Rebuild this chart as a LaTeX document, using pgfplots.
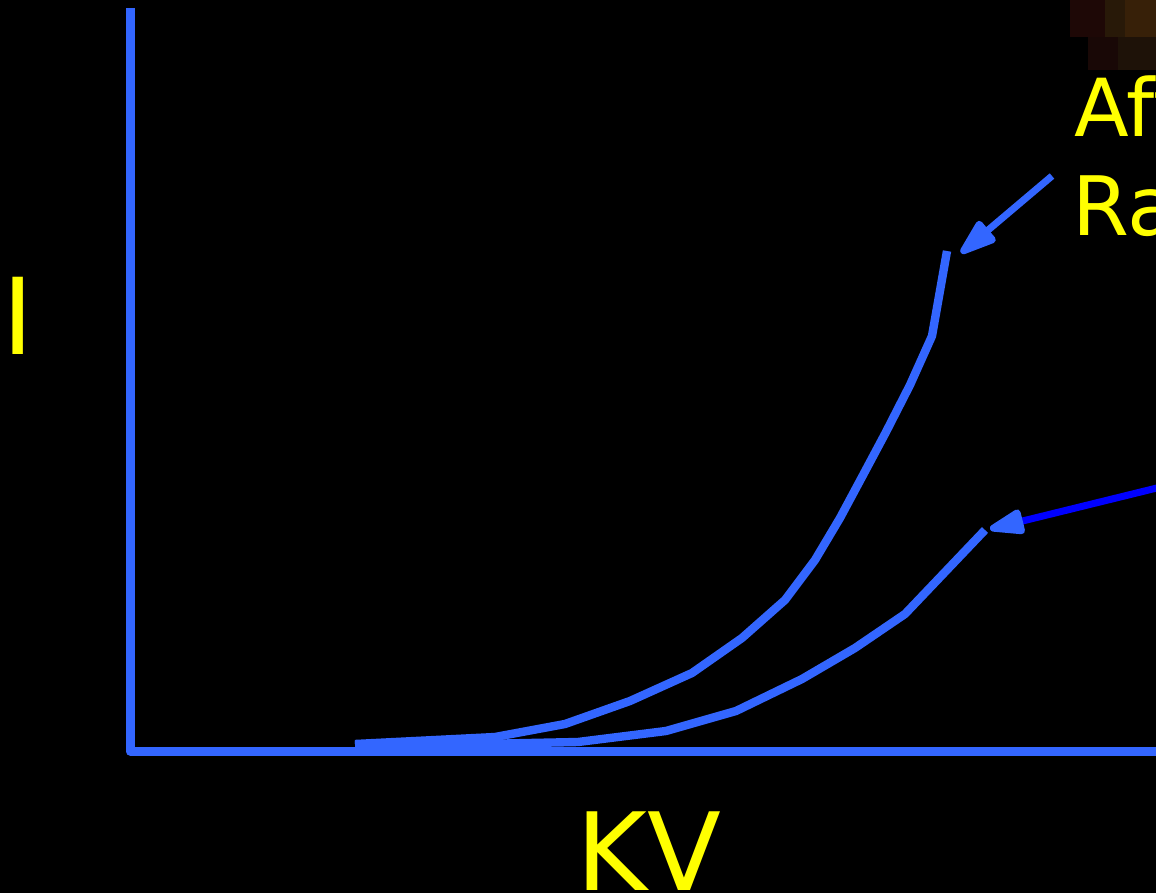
\documentclass[border=0pt]{standalone}
\usepackage{pgfplots}
\pgfplotsset{compat=1.18}
\usepackage{fontspec}
\setmainfont{DejaVu Sans}
\usetikzlibrary{arrows.meta}
\definecolor{ablue}{RGB}{51,102,255}
\definecolor{pblue}{RGB}{0,0,255}
\definecolor{tyellow}{RGB}{255,255,0}
\begin{document}
\begin{tikzpicture}
\path[use as bounding box] (0,0) rectangle (578pt,446.5pt);
\clip (0,0) rectangle (578pt,446.5pt);
\fill[black] (0,0) rectangle (578pt,446.5pt);
\begin{axis}[
  at={(0,0)}, anchor=south west,
  width=578pt, height=446.5pt, scale only axis,
  xmin=0, xmax=1156, ymin=0, ymax=893, y dir=reverse,
  hide axis, clip=true,
]
% brownish smudge top right
\fill[fill={rgb,255:red,30;green,8;blue,6}] (axis cs:1070,0) rectangle (axis cs:1105,37);
\fill[fill={rgb,255:red,40;green,25;blue,8}] (axis cs:1105,0) rectangle (axis cs:1156,37);
\fill[fill={rgb,255:red,55;green,32;blue,8}] (axis cs:1125,0) rectangle (axis cs:1156,37);
\fill[fill={rgb,255:red,25;green,8;blue,6}] (axis cs:1088,37) rectangle (axis cs:1118,70);
\fill[fill={rgb,255:red,30;green,18;blue,8}] (axis cs:1118,37) rectangle (axis cs:1156,70);
% axes
\draw[ablue, line width=4.5pt, line join=round] (axis cs:130,8) -- (axis cs:130,751) -- (axis cs:1170,751);
% upper curve
\addplot[ablue, line width=4.2pt, line join=round, mark=none] coordinates {
(355,744) (495,737) (565,724) (630,701) (692,673) (742,638) (785,600)
(815,560) (840,518) (862,477) (886,432) (910,385) (932,336) (947,251)};
% lower curve
\addplot[ablue, line width=4.2pt, line join=round, mark=none] coordinates {
(355,745) (480,744) (578,742) (666,731) (736,711) (802,679) (855,648)
(905,614) (945,572) (985,530)};
% arrows
\draw[ablue, line width=3.5pt, -{Triangle[length=22pt, width=14pt, round]}] (axis cs:1052,176) -- (axis cs:961,253);
\draw[pblue, line width=3.5pt, -{Triangle[color=ablue, fill=ablue, length=21pt, width=13pt, round]}] (axis cs:1165,486) -- (axis cs:990,529);
% texts
\node[anchor=base west, inner sep=0pt, text=tyellow, font=\fontsize{53}{60}\selectfont] at (axis cs:2,354) {I};
\node[anchor=base west, inner sep=0pt, text=tyellow, font=\fontsize{54}{60}\selectfont] at (axis cs:576,890) {KV};
\node[anchor=base west, inner sep=0pt, text=tyellow, font=\fontsize{40}{50}\selectfont] at (axis cs:1074,137) {After};
\node[anchor=base west, inner sep=0pt, text=tyellow, font=\fontsize{41}{50}\selectfont] at (axis cs:1072,235) {Rapid};
\end{axis}
\end{tikzpicture}
\end{document}
